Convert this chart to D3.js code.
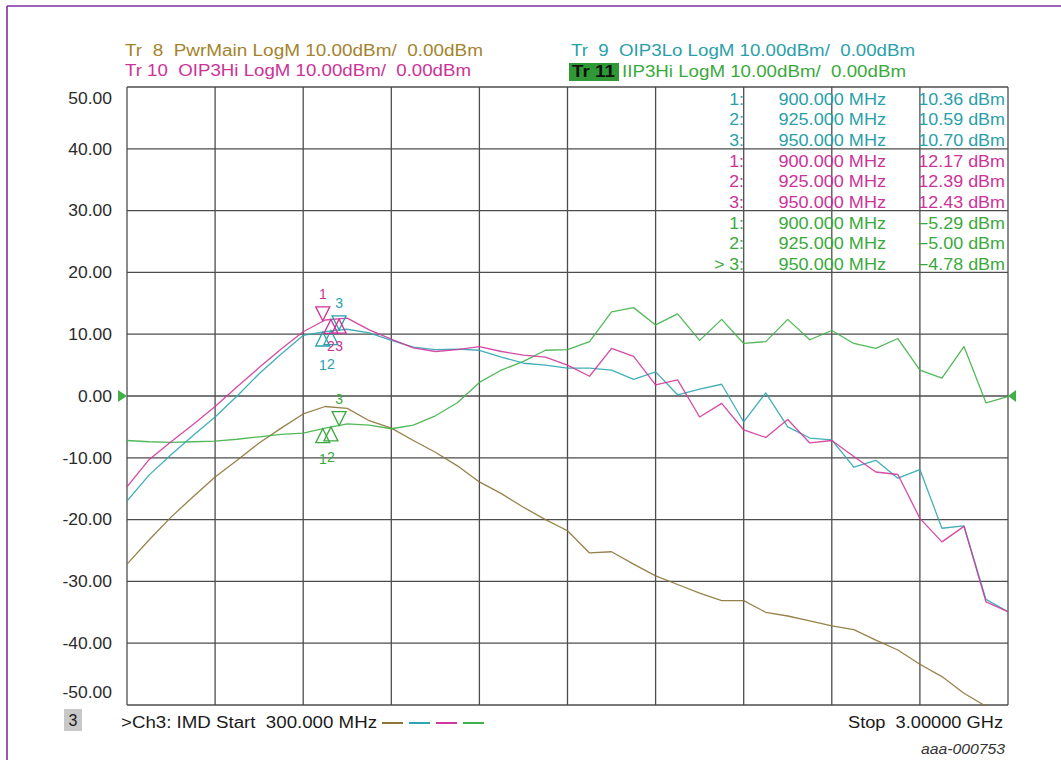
<!DOCTYPE html>
<html><head><meta charset="utf-8">
<script src="https://cdn.jsdelivr.net/npm/d3@7"></script>
<style>html,body{margin:0;padding:0;background:#fff;} svg{display:block;font-family:Arial,"Liberation Sans",sans-serif;}</style>
</head><body><svg id="c" width="1061" height="760"></svg>
<script>
// ---- data (sweep points, MHz) ----
const freqMHz = [300, 367.5, 435, 502.5, 570, 637.5, 705, 772.5, 840, 907.5, 975, 1042.5, 1110, 1177.5, 1245, 1312.5, 1380, 1447.5, 1515, 1582.5, 1650, 1717.5, 1785, 1852.5, 1920, 1987.5, 2055, 2122.5, 2190, 2257.5, 2325, 2392.5, 2460, 2527.5, 2595, 2662.5, 2730, 2797.5, 2865, 2932.5, 3000];
// Tr 8 PwrMain (dBm)
const pwrMain = [-27.2, -23.3, -19.6, -16.3, -13.1, -10.4, -7.6, -5.2, -2.9, -1.7, -2.0, -4.0, -5.2, -7.2, -9.1, -11.3, -13.9, -15.8, -18.0, -20.0, -21.8, -25.4, -25.2, -27.2, -29.1, -30.5, -31.9, -33.1, -33.1, -35.0, -35.6, -36.4, -37.2, -37.8, -39.5, -41.1, -43.4, -45.4, -48.1, -50.2, -51.0];
// Tr 9 OIP3Lo (dBm)
const oip3Lo = [-17.0, -12.8, -9.5, -6.4, -3.4, 0.0, 3.6, 6.8, 9.8, 10.4, 10.8, 10.2, 9.0, 7.9, 7.5, 7.6, 7.4, 6.3, 5.3, 5.0, 4.5, 4.5, 4.2, 2.7, 3.9, 0.2, 1.1, 1.9, -4.2, 0.5, -5.0, -6.8, -7.1, -11.5, -10.4, -13.3, -11.9, -21.4, -21.0, -32.9, -34.9];
// Tr 10 OIP3Hi (dBm)
const oip3Hi = [-14.7, -10.3, -7.4, -4.6, -1.7, 1.5, 4.6, 7.6, 10.4, 12.3, 12.6, 10.7, 9.2, 7.8, 7.2, 7.5, 8.0, 7.2, 6.6, 6.3, 5.0, 3.2, 7.7, 6.4, 1.8, 2.6, -3.4, -1.2, -5.5, -6.7, -3.8, -7.6, -7.2, -9.8, -12.3, -12.7, -19.8, -23.6, -21.1, -33.3, -34.9];
// Tr 11 IIP3Hi (dBm)
const iip3Hi = [-7.2, -7.4, -7.5, -7.4, -7.3, -7.0, -6.6, -6.2, -6.0, -5.2, -4.5, -4.7, -5.3, -4.7, -3.2, -1.1, 2.2, 4.2, 5.6, 7.4, 7.5, 8.8, 13.6, 14.3, 11.5, 13.3, 9.0, 12.4, 8.5, 8.8, 12.4, 9.1, 10.6, 8.5, 7.7, 9.3, 4.2, 2.9, 8.0, -1.1, -0.1];

const yTicks = [50, 40, 30, 20, 10, 0, -10, -20, -30, -40, -50];
const yTickLabels = ["50.00", "40.00", "30.00", "20.00", "10.00", "0.00", "-10.00", "-20.00", "-30.00", "-40.00", "-50.00"];
const markerFreqs = [900, 925, 950];
const markerLabels = ["1", "2", "3"];
const markerLo = [10.36, 10.59, 10.70];
const markerHi = [12.17, 12.39, 12.43];
const markerIip = [-5.29, -5.00, -4.78];
const markerLoDir = ["up", "up", "down"];
const markerHiDir = ["down", "up", "up"];
const markerIipDir = ["up", "up", "down"];
const tableIdx = ["1:", "2:", "3:"];
const tableIdxActive = ["1:", "2:", "> 3:"];

// ---- colors ----
const cBrown = "#8c7437", cBrownTxt = "#a3842c";
const cTeal = "#2ea6b2", cTealTxt = "#2a9fa9";
const cPink = "#d0379c", cPinkTxt = "#cc3399";
const cGreen = "#3fb147", cGreenTxt = "#3aa93c";

const svg = d3.select("#c");
const L = 127, R = 1008, T = 87, B = 705;
const x = d3.scaleLinear().domain([300, 3000]).range([L, R]);
const y = d3.scaleLinear().domain([-50, 50]).range([B, T]);
const NB = "\u00A0";
const sp = s => s.replace(/  /g, NB + " ");

function stretch(sel, k) {
  sel.each(function () {
    const w = this.getComputedTextLength();
    this.setAttribute("textLength", w * k);
    this.setAttribute("lengthAdjust", "spacingAndGlyphs");
  });
}
function fixed(sel, w) {
  sel.attr("textLength", w).attr("lengthAdjust", "spacingAndGlyphs");
}

// purple frame
svg.append("line").attr("x1", 7).attr("x2", 7).attr("y1", 6).attr("y2", 760).attr("stroke", "#7a2fa3").attr("stroke-width", 1.6);
svg.append("line").attr("x1", 7).attr("x2", 1061).attr("y1", 6).attr("y2", 6).attr("stroke", "#7a2fa3").attr("stroke-width", 1.6);

// grid
const gridX = d3.range(300, 3000.1, 270);
const grid = svg.append("g");
grid.selectAll("line.v").data(gridX).join("line")
  .attr("x1", d => x(d)).attr("x2", d => x(d)).attr("y1", T).attr("y2", B)
  .attr("stroke", "#4d4d4d").attr("stroke-width", 1.3);
grid.selectAll("line.h").data(yTicks).join("line")
  .attr("x1", L).attr("x2", R).attr("y1", d => y(d)).attr("y2", d => y(d))
  .attr("stroke", "#4d4d4d").attr("stroke-width", 1.3);

// y axis labels
const yAxis = d3.axisLeft(y).tickValues(yTicks).tickSize(0).tickPadding(15)
  .tickFormat((d, i) => yTickLabels[i]);
const ga = svg.append("g").attr("transform", `translate(${L},0)`).call(yAxis);
ga.select(".domain").remove();
ga.selectAll("text").attr("font-size", 16.5).attr("fill", "#2b2b2b")
  .attr("font-family", "Arial, 'Liberation Sans', sans-serif")
  .attr("dy", d => d === 50 ? "1.0em" : d === -50 ? "-0.45em" : "0.32em");
stretch(ga.selectAll("text"), 1.06);

// reference level triangles at 0
svg.append("path").attr("d", `M${L - 9},${y(0) - 6}L${L},${y(0)}L${L - 9},${y(0) + 6}Z`).attr("fill", cGreen);
svg.append("path").attr("d", `M${R + 8},${y(0) - 6}L${R},${y(0)}L${R + 8},${y(0) + 6}Z`).attr("fill", cGreen);

// traces
svg.append("clipPath").attr("id", "pc").append("rect").attr("x", L).attr("y", T).attr("width", R - L).attr("height", B - T + 1);
const line = d3.line().x((d, i) => x(freqMHz[i])).y(d => y(d));
const traces = [
  { v: pwrMain, c: cBrown },
  { v: iip3Hi, c: cGreen },
  { v: oip3Lo, c: cTeal },
  { v: oip3Hi, c: cPink },
];
const gt = svg.append("g").attr("clip-path", "url(#pc)");
traces.forEach(t => {
  gt.append("path").attr("d", line(t.v)).attr("fill", "none").attr("stroke", t.c)
    .attr("stroke-width", 1.3).attr("stroke-linejoin", "round").attr("opacity", 0.9);
});

// markers
function drawMarkers(vals, dirs, color, belowOffset) {
  const g = svg.append("g");
  vals.forEach((v, i) => {
    const mx = x(markerFreqs[i]), my = y(v);
    const s = dirs[i] === "down" ? -1 : 1;
    g.append("path").attr("d", `M${mx - 7},${my + s * 14}L${mx + 7},${my + s * 14}L${mx},${my}Z`)
      .attr("fill", "none").attr("stroke", color).attr("stroke-width", 1.3);
    g.append("text").attr("x", mx).attr("y", s < 0 ? my - 21.5 : my + belowOffset)
      .attr("text-anchor", "middle").attr("font-size", 14).attr("fill", color).text(markerLabels[i]);
  });
}
drawMarkers(markerIip, markerIipDir, cGreenTxt, 35);
drawMarkers(markerLo, markerLoDir, cTealTxt, 38);
drawMarkers(markerHi, markerHiDir, cPinkTxt, 32);

// legend
const lg = svg.append("g").attr("font-size", 16);
fixed(lg.append("text").attr("x", 125).attr("y", 56).attr("fill", cBrownTxt).text(sp("Tr  8  PwrMain LogM 10.00dBm/  0.00dBm")), 358);
fixed(lg.append("text").attr("x", 125).attr("y", 76).attr("fill", cPinkTxt).text(sp("Tr 10  OIP3Hi LogM 10.00dBm/  0.00dBm")), 346);
fixed(lg.append("text").attr("x", 571).attr("y", 56).attr("fill", cTealTxt).text(sp("Tr  9  OIP3Lo LogM 10.00dBm/  0.00dBm")), 344);
lg.append("rect").attr("x", 569).attr("y", 63).attr("width", 50).attr("height", 18).attr("fill", "#2f9a35");
fixed(lg.append("text").attr("x", 572).attr("y", 77).attr("fill", "#111").attr("font-weight", "bold").text("Tr 11"), 43);
fixed(lg.append("text").attr("x", 622).attr("y", 77).attr("fill", cGreenTxt).text(sp("IIP3Hi LogM 10.00dBm/  0.00dBm")), 284);

// marker table
const tg = svg.append("g").attr("font-size", 16);
const groups = [
  { vals: markerLo, c: cTealTxt, idx: tableIdx },
  { vals: markerHi, c: cPinkTxt, idx: tableIdx },
  { vals: markerIip, c: cGreenTxt, idx: tableIdxActive },
];
let row = 0;
groups.forEach(gp => {
  gp.vals.forEach((v, i) => {
    const yy = 99 + row * 20.7 + 5.5;
    const t1 = tg.append("text").attr("x", 744).attr("y", yy).attr("text-anchor", "end").attr("fill", gp.c).text(gp.idx[i]);
    const t2 = tg.append("text").attr("x", 886).attr("y", yy).attr("text-anchor", "end").attr("fill", gp.c).text(d3.format(".3f")(markerFreqs[i]) + " MHz");
    const t3 = tg.append("text").attr("x", 1005).attr("y", yy).attr("text-anchor", "end").attr("fill", gp.c).text(d3.format(".2f")(v) + " dBm");
    stretch(t1, 1.1); stretch(t2, 1.13); stretch(t3, 1.12);
    row++;
  });
});

// bottom status line
const bg = svg.append("g").attr("font-size", 16).attr("fill", "#1a1a1a");
bg.append("rect").attr("x", 64).attr("y", 709).attr("width", 18).attr("height", 22).attr("fill", "#c8c8c8");
bg.append("text").attr("x", 73).attr("y", 726).attr("text-anchor", "middle").text("3");
fixed(bg.append("text").attr("x", 121).attr("y", 728).text(sp(">Ch3: IMD Start  300.000 MHz")), 256);
const legendColors = [cBrown, cTeal, cPink, cGreen];
legendColors.forEach((c, i) => {
  bg.append("line").attr("x1", 382 + i * 27).attr("x2", 403 + i * 27).attr("y1", 723).attr("y2", 723)
    .attr("stroke", c).attr("stroke-width", 2);
});
fixed(bg.append("text").attr("x", 848).attr("y", 728).text(sp("Stop  3.00000 GHz")), 155);
fixed(svg.append("text").attr("x", 921).attr("y", 754).attr("font-size", 14).attr("font-style", "italic")
  .attr("fill", "#333").text("aaa-000753"), 84);
</script>
</body></html>
